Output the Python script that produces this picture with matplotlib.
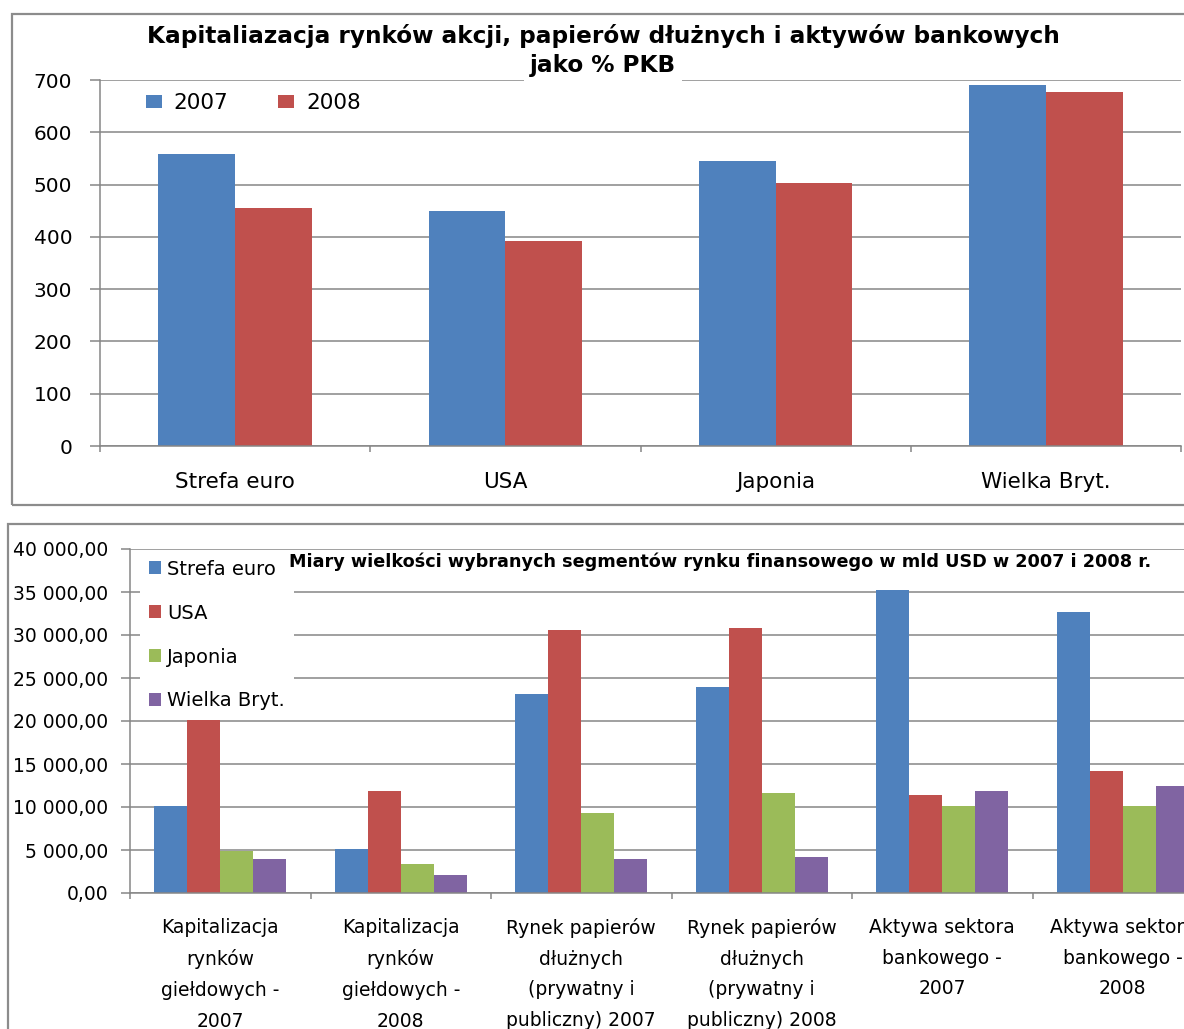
import matplotlib
matplotlib.use("Agg")
import matplotlib.pyplot as plt
from matplotlib.patches import Rectangle
from matplotlib.ticker import FuncFormatter, FixedLocator
import numpy as np

# --- top chart data ---
top_title_1 = "Kapitaliazacja rynków akcji, papierów dłużnych i aktywów bankowych"
top_title_2 = "jako % PKB"
regions = ["Strefa euro", "USA", "Japonia", "Wielka Bryt."]
years = ["2007", "2008"]
pkb_2007 = [558, 449, 545, 690]
pkb_2008 = [455, 392, 503, 677]

# --- bottom chart data ---
bottom_title = "Miary wielkości wybranych segmentów rynku finansowego w mld USD w 2007 i 2008 r."
segments = [
    "Kapitalizacja\nrynków\ngiełdowych -\n2007",
    "Kapitalizacja\nrynków\ngiełdowych -\n2008",
    "Rynek papierów\ndłużnych\n(prywatny i\npubliczny) 2007",
    "Rynek papierów\ndłużnych\n(prywatny i\npubliczny) 2008",
    "Aktywa sektora\nbankowego -\n2007",
    "Aktywa sektora\nbankowego -\n2008",
]
strefa_euro = [10100, 5100, 23100, 23950, 35250, 32650]
usa = [20100, 11850, 30550, 30800, 11400, 14200]
japonia = [4900, 3400, 9300, 11650, 10100, 10100]
wielka_bryt = [3950, 2100, 3950, 4200, 11850, 12450]

colors = ["#4F81BD", "#C0504D", "#9BBB59", "#8064A2"]
grid_c = "#868686"

W, H = 1184, 1029
fig = plt.figure(figsize=(W / 100, H / 100), dpi=100)


def px(x, y):
    return x / W, 1 - y / H


def frame(x0, y0, x1, y1):
    fx0, fy1 = px(x0, y0)
    fx1, fy0 = px(x1, y1)
    fig.patches.append(Rectangle((fx0, fy0), fx1 - fx0, fy1 - fy0, transform=fig.transFigure,
                                 fill=False, edgecolor="#8c8c8c", linewidth=1.6, zorder=0))


def axes_at(left, top, right, bottom):
    l, t = px(left, top)
    r, b = px(right, bottom)
    return fig.add_axes([l, b, r - l, t - b])


def style(ax, n, ypad, xpad, ytick_len):
    for s in ["top", "right"]:
        ax.spines[s].set_visible(False)
    for s in ["left", "bottom"]:
        ax.spines[s].set_color(grid_c)
        ax.spines[s].set_linewidth(1.1)
    ax.set_xlim(-0.5, n - 0.5)
    ax.set_xticks(np.arange(n))
    ax.xaxis.set_minor_locator(FixedLocator(np.arange(n + 1) - 0.5))
    ax.tick_params(axis="x", which="major", length=0, pad=xpad)
    ax.tick_params(axis="x", which="minor", length=4.5, width=1.1, color=grid_c, direction="out")
    ax.tick_params(axis="y", length=ytick_len, width=1.1, color=grid_c, pad=ypad)
    ax.yaxis.grid(True, color=grid_c, linewidth=1.1)
    ax.set_axisbelow(True)


frame(12, 14, 1200, 505)
frame(8, 524, 1200, 1045)

# --- top chart ---
ax1 = axes_at(100, 80, 1181, 446)
x = np.arange(len(regions))
bw = 0.284
ax1.bar(x - bw / 2, pkb_2007, bw, color=colors[0], label=years[0])
ax1.bar(x + bw / 2, pkb_2008, bw, color=colors[1], label=years[1])
ax1.set_ylim(0, 700)
ax1.set_yticks(range(0, 701, 100))
style(ax1, len(regions), 13, 19, 7)
ax1.set_xticklabels(regions, fontsize=15.5)
ax1.tick_params(axis="y", labelsize=14.5)
ax1.legend(loc="upper left", bbox_to_anchor=px(134, 81), bbox_transform=fig.transFigure,
           ncol=2, fontsize=15.5, frameon=True, facecolor="white", edgecolor="none",
           fancybox=False, framealpha=1, borderpad=0.55, borderaxespad=0,
           handlelength=0.75, handleheight=0.55, handletextpad=0.55, columnspacing=2.3)

fig.text(*px(603, 36), top_title_1, ha="center", va="center", fontsize=16.7, fontweight="bold")
fig.text(*px(603, 66), top_title_2, ha="center", va="center", fontsize=16.7, fontweight="bold",
         bbox=dict(facecolor="white", edgecolor="none", pad=4.5))

# --- bottom chart ---
ax2 = axes_at(130, 549, 1213, 893)
x2 = np.arange(len(segments))
bw2 = 0.183
series = [strefa_euro, usa, japonia, wielka_bryt]
names = regions
for i, (vals, name) in enumerate(zip(series, names)):
    ax2.bar(x2 + (i - 1.5) * bw2, vals, bw2, color=colors[i], label=name, zorder=2)
ax2.set_ylim(0, 40000)
ax2.set_yticks(range(0, 40001, 5000))
ax2.yaxis.set_major_formatter(FuncFormatter(
    lambda v, p: f"{v:,.2f}".replace(",", " ").replace(".", ",")))
style(ax2, len(segments), 9, 18, 6.5)
ax2.set_xticklabels(segments, fontsize=13.5, linespacing=1.78, va="top")
ax2.tick_params(axis="y", labelsize=13.5)
leg2 = ax2.legend(loc="upper left", bbox_to_anchor=px(140, 551), bbox_transform=fig.transFigure,
                  fontsize=14, frameon=True, facecolor="white", edgecolor="none",
                  fancybox=False, framealpha=1, borderpad=0.45, borderaxespad=0,
                  handlelength=0.65, handleheight=0.65, handletextpad=0.3, labelspacing=1.28)
leg2.set_zorder(1.5)

fig.text(*px(720, 562), bottom_title, ha="center", va="center", fontsize=12.7, fontweight="bold")

fig.savefig("out.png", dpi=100)
